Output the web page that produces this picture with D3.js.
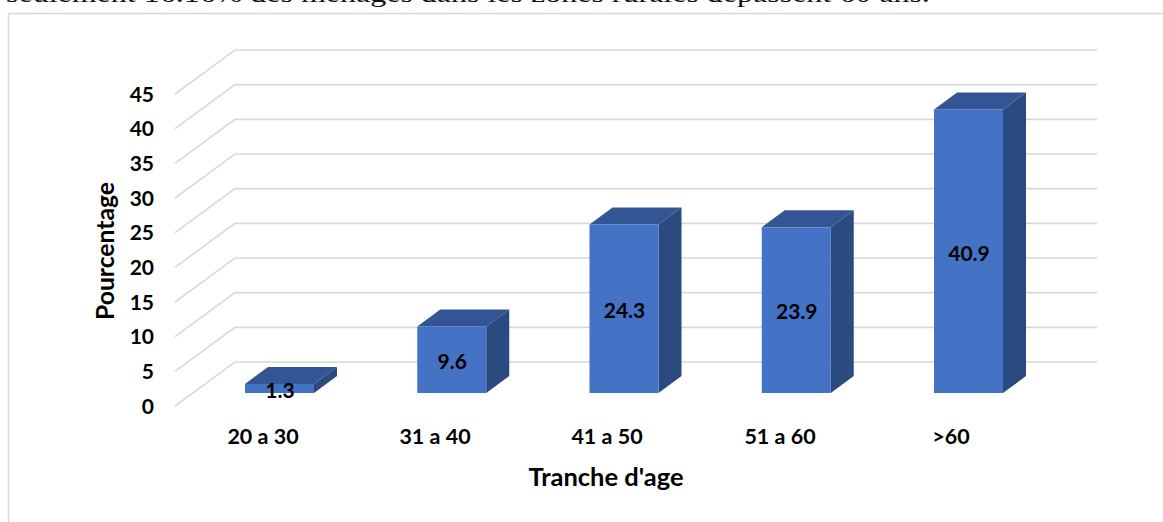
<!DOCTYPE html>
<html><head><meta charset="utf-8">
<script src="https://cdn.jsdelivr.net/npm/d3@7"></script>
<style>html,body{margin:0;padding:0;background:#fff;overflow:hidden}svg{display:block}</style>
</head><body><div id="c"></div>
<script>
const categories = ["20 a 30","31 a 40","41 a 50","51 a 60",">60"];
const values = [1.3,9.6,24.3,23.9,40.9];
const valueLabels = ["1.3","9.6","24.3","23.9","40.9"];
const yTicks = [0,5,10,15,20,25,30,35,40,45];
const caption = "seulement 16.16% des ménages dans les zones rurales dépassent 60 ans.";
const yTitle = "Pourcentage", xTitle = "Tranche d'age";

const W=1163,H=522;
const svg=d3.select("#c").append("svg").attr("width",W).attr("height",H);
const font="Lato, 'Open Sans', sans-serif";
svg.append("text").text(caption).attr("transform","translate(6,2) scale(1.28,1)").attr("font-family","Liberation Serif").attr("font-size",25).attr("fill","#111");
svg.append("path").attr("d",`M1163 13.5H8.5V522`).attr("fill","none").attr("stroke","#d9d9d9").attr("stroke-width",1.5);

const y=d3.scaleLinear().domain([0,45]).range([393,81]);
const barW=69;
const barX=d3.scalePoint().domain(categories).range([245,934]);
const dx=23,dy=17;
const gx0=175,gx1=235,gx2=1097,gFront=13,gBack=-31;
const g=svg.append("g").attr("fill","none").attr("stroke","#d9d9d9").attr("stroke-width",1.6);
g.selectAll("path").data(yTicks).join("path")
 .attr("d",t=>`M${gx0} ${y(t)+gFront}L${gx1} ${y(t)+gBack}H${gx2}`);
const b=svg.append("g").selectAll("g").data(values).join("g");
b.append("path").attr("fill","#2a4a80").attr("d",(v,i)=>{const l=barX(categories[i])+barW,t=y(v),bo=y(0);
 return `M${l} ${t}l${dx} ${-dy}V${bo-dy}L${l} ${bo}Z`});
b.append("path").attr("fill","#335593").attr("d",(v,i)=>{const l=barX(categories[i]),t=y(v);
 return `M${l} ${t}l${dx} ${-dy}h${barW}l${-dx} ${dy}Z`});
b.append("rect").attr("fill","#4472c4").attr("x",(v,i)=>barX(categories[i])).attr("y",v=>y(v)).attr("width",barW).attr("height",v=>y(0)-y(v));
const txt=(s)=>s.attr("font-family",font).attr("font-weight",700).attr("fill","#000");
txt(b.append("text")).attr("font-size",21).attr("text-anchor","middle")
 .attr("x",(v,i)=>barX(categories[i])+barW/2+0.5).attr("y",(v,i)=>[398,369,318,319,261][i])
 .text((v,i)=>valueLabels[i]);
txt(svg.append("g").selectAll("text").data(yTicks).join("text")).attr("font-size",21).attr("text-anchor","end")
 .attr("x",154).attr("y",t=>y(t)+20.5).text(t=>t);
txt(svg.append("g").selectAll("text").data(categories).join("text")).attr("font-size",21.5).attr("text-anchor","middle")
 .attr("x",(c,i)=>[263,435,607,780,951][i]).attr("y",444).text(c=>c);
txt(svg.append("text")).attr("font-size",25.5).attr("text-anchor","middle").attr("x",606).attr("y",486).text(xTitle);
txt(svg.append("text")).attr("font-size",24.7).attr("text-anchor","middle").attr("transform","translate(114,251) rotate(-90)").text(yTitle);
</script></body></html>
